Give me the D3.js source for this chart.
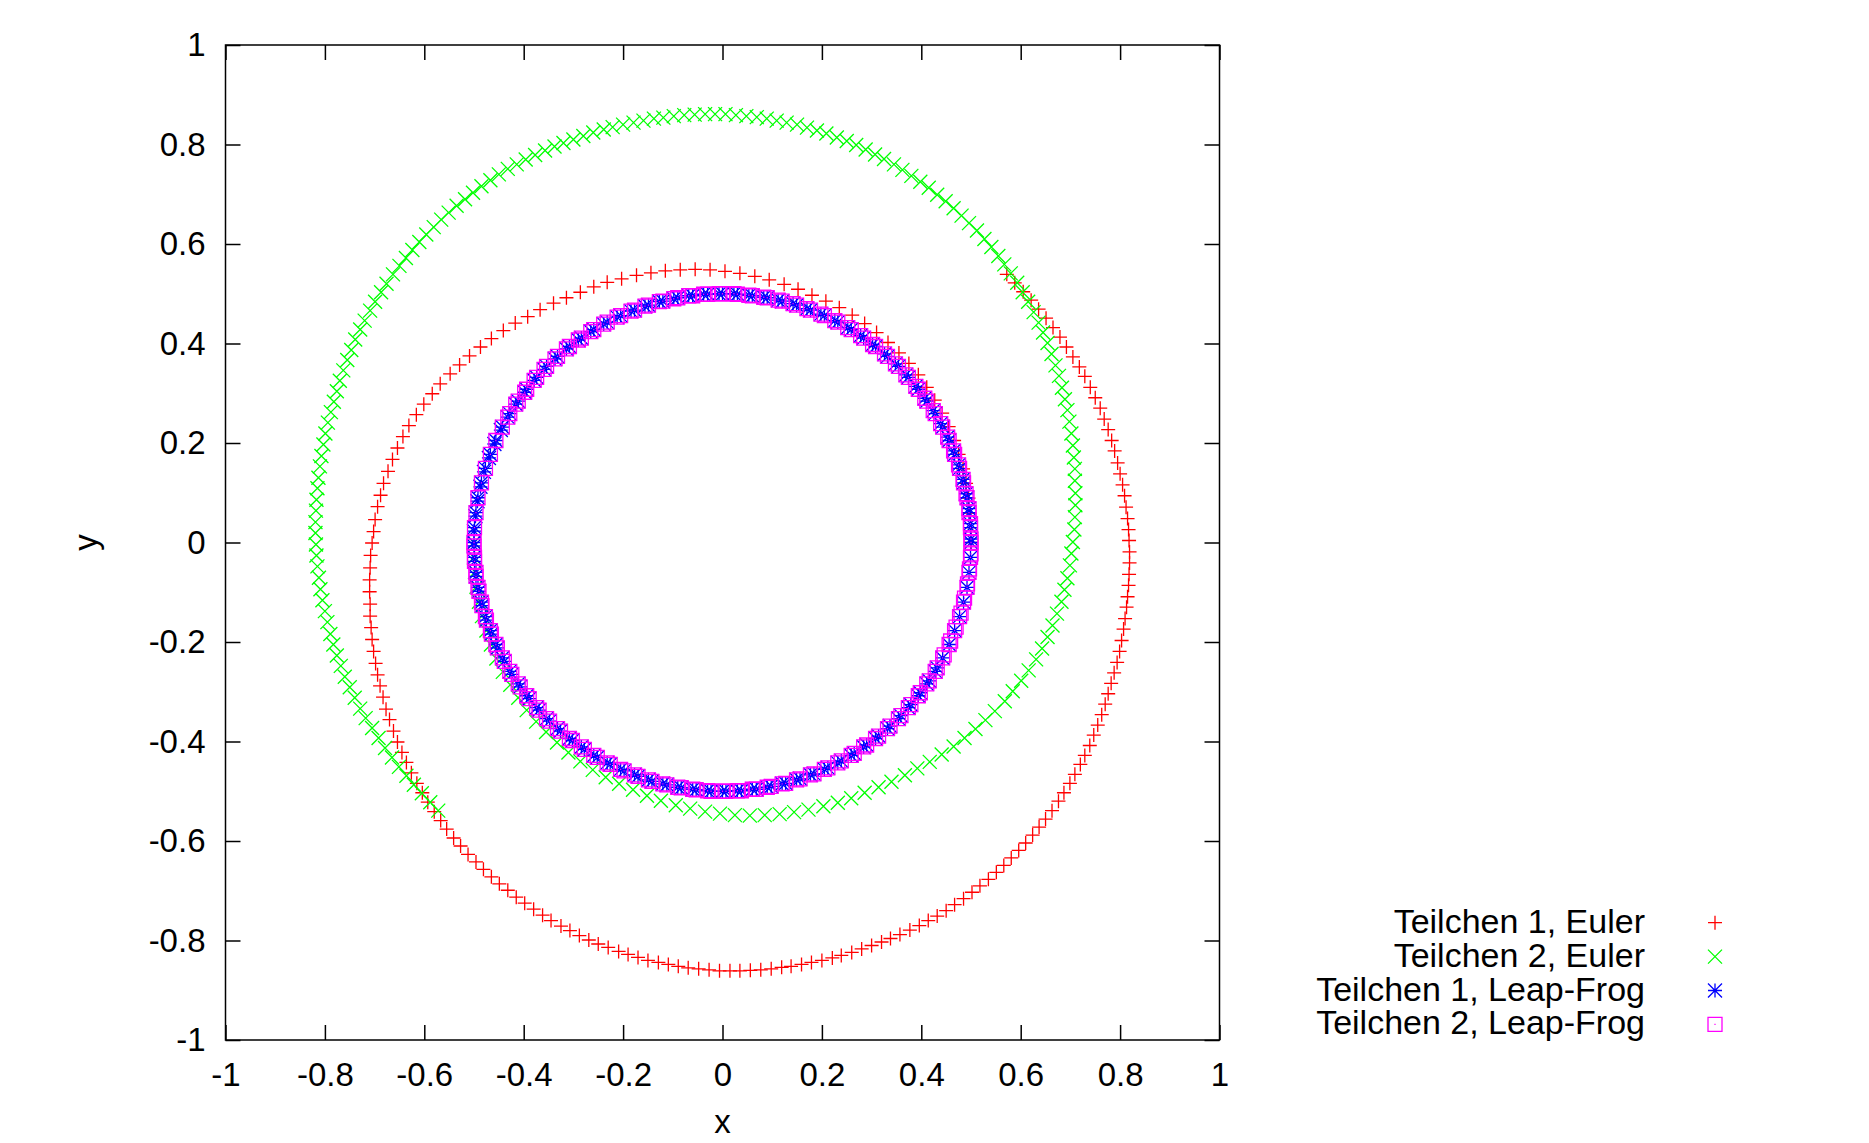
<!DOCTYPE html>
<html>
<head>
<meta charset="utf-8">
<script src="https://cdn.jsdelivr.net/npm/d3@7"></script>
<style>
  body { margin: 0; background: #fff; }
</style>
</head>
<body>
<svg id="chart"></svg>
<script>

// axis ticks
const xTicks = [-1, -0.8, -0.6, -0.4, -0.2, 0, 0.2, 0.4, 0.6, 0.8, 1];
const xTickLabels = ["-1", "-0.8", "-0.6", "-0.4", "-0.2", "0", "0.2", "0.4", "0.6", "0.8", "1"];
const yTicks = [-1, -0.8, -0.6, -0.4, -0.2, 0, 0.2, 0.4, 0.6, 0.8, 1];
const yTickLabels = ["-1", "-0.8", "-0.6", "-0.4", "-0.2", "0", "0.2", "0.4", "0.6", "0.8", "1"];

const seriesNames = ["Teilchen 1, Euler", "Teilchen 2, Euler", "Teilchen 1, Leap-Frog", "Teilchen 2, Leap-Frog"];

// positions [x, y]
const teilchen1Euler = [[.500,0],[.500,.030],[.498,.059],[.495,.089],[.490,.119],[.484,.148],[.475,.177],[.466,.205],[.455,.233],[.442,.260],[.427,.286],[.411,.312],[.394,.337],[.375,.360],[.355,.381],[.333,.402],[.310,.422],[.286,.440],[.261,.457],[.235,.472],[.208,.485],[.180,.497],[.152,.509],[.124,.519],[.094,.528],[.065,.535],[.035,.541],[.005,.545],[-.025,.548],[-.055,.549],[-.085,.548],[-.115,.546],[-.144,.542],[-.173,.537],[-.203,.530],[-.232,.523],[-.259,.514],[-.286,.503],[-.314,.492],[-.340,.481],[-.367,.468],[-.392,.454],[-.417,.441],[-.441,.426],[-.465,.410],[-.487,.393],[-.509,.375],[-.529,.357],[-.548,.339],[-.568,.319],[-.584,.299],[-.601,.278],[-.616,.257],[-.631,.235],[-.643,.213],[-.654,.190],[-.664,.167],[-.673,.143],[-.682,.119],[-.688,.095],[-.694,.072],[-.699,.046],[-.702,.022],[-.705,-.001],[-.708,-.026],[-.709,-.051],[-.710,-.075],[-.710,-.099],[-.709,-.124],[-.709,-.148],[-.707,-.171],[-.705,-.195],[-.702,-.219],[-.698,-.243],[-.694,-.266],[-.689,-.288],[-.683,-.311],[-.677,-.335],[-.670,-.356],[-.662,-.379],[-.654,-.401],[-.645,-.422],[-.636,-.442],[-.626,-.463],[-.615,-.484],[-.604,-.503],[-.593,-.522],[-.580,-.541],[-.567,-.559],[-.555,-.576],[-.541,-.594],[-.527,-.610],[-.512,-.627],[-.496,-.642],[-.481,-.657],[-.465,-.672],[-.449,-.686],[-.432,-.699],[-.415,-.713],[-.398,-.725],[-.380,-.737],[-.362,-.749],[-.345,-.760],[-.325,-.771],[-.307,-.780],[-.288,-.790],[-.269,-.799],[-.250,-.807],[-.230,-.814],[-.209,-.822],[-.190,-.828],[-.170,-.834],[-.150,-.840],[-.129,-.844],[-.109,-.848],[-.089,-.852],[-.069,-.855],[-.048,-.857],[-.027,-.859],[-.006,-.861],[.015,-.861],[.035,-.861],[.056,-.860],[.077,-.859],[.098,-.857],[.119,-.854],[.138,-.852],[.159,-.848],[.179,-.844],[.200,-.840],[.221,-.835],[.239,-.830],[.260,-.824],[.280,-.817],[.300,-.810],[.320,-.803],[.338,-.796],[.357,-.788],[.377,-.779],[.396,-.770],[.414,-.760],[.432,-.751],[.450,-.740],[.467,-.728],[.485,-.716],[.502,-.703],[.518,-.690],[.535,-.677],[.551,-.663],[.566,-.649],[.581,-.634],[.596,-.619],[.610,-.604],[.624,-.588],[.637,-.572],[.650,-.556],[.663,-.539],[.676,-.520],[.687,-.503],[.699,-.484],[.709,-.466],[.720,-.446],[.729,-.428],[.739,-.408],[.747,-.387],[.755,-.367],[.763,-.346],[.770,-.325],[.776,-.304],[.782,-.283],[.788,-.262],[.794,-.241],[.799,-.219],[.803,-.197],[.807,-.174],[.810,-.153],[.813,-.130],[.815,-.109],[.817,-.086],[.818,-.064],[.819,-.041],[.819,-.019],[.818,.004],[.817,.026],[.815,.048],[.812,.071],[.809,.094],[.805,.116],[.800,.138],[.795,.160],[.789,.184],[.783,.205],[.776,.227],[.768,.248],[.760,.270],[.750,.291],[.740,.312],[.729,.334],[.718,.353],[.705,.373],[.692,.393],[.679,.413],[.665,.432],[.651,.451],[.636,.469],[.621,.487],[.605,.504],[.588,.522],[.572,.539]];

const teilchen2Euler = [[-.500,0],[-.500,-.030],[-.498,-.059],[-.495,-.089],[-.490,-.119],[-.484,-.148],[-.475,-.177],[-.466,-.205],[-.455,-.233],[-.442,-.260],[-.427,-.286],[-.411,-.312],[-.394,-.337],[-.375,-.360],[-.355,-.381],[-.333,-.402],[-.310,-.422],[-.286,-.440],[-.261,-.457],[-.235,-.472],[-.208,-.485],[-.180,-.497],[-.152,-.509],[-.124,-.519],[-.094,-.528],[-.065,-.535],[-.035,-.541],[-.005,-.545],[.025,-.548],[.055,-.549],[.085,-.548],[.115,-.546],[.144,-.542],[.173,-.537],[.203,-.530],[.232,-.523],[.259,-.514],[.286,-.503],[.314,-.492],[.340,-.481],[.367,-.468],[.392,-.454],[.417,-.441],[.441,-.426],[.465,-.410],[.487,-.393],[.509,-.375],[.529,-.357],[.548,-.339],[.568,-.319],[.584,-.299],[.601,-.278],[.616,-.257],[.631,-.235],[.643,-.213],[.654,-.190],[.664,-.167],[.673,-.143],[.682,-.119],[.688,-.095],[.694,-.072],[.699,-.046],[.702,-.022],[.705,.001],[.708,.026],[.709,.051],[.710,.075],[.710,.099],[.709,.124],[.709,.148],[.707,.171],[.705,.195],[.702,.219],[.698,.243],[.694,.266],[.689,.288],[.683,.311],[.677,.335],[.670,.356],[.662,.379],[.654,.401],[.645,.422],[.636,.442],[.626,.463],[.615,.484],[.604,.503],[.593,.522],[.580,.541],[.567,.559],[.555,.576],[.541,.594],[.527,.610],[.512,.627],[.496,.642],[.481,.657],[.465,.672],[.449,.686],[.432,.699],[.415,.713],[.398,.725],[.380,.737],[.362,.749],[.345,.760],[.325,.771],[.307,.780],[.288,.790],[.269,.799],[.250,.807],[.230,.814],[.209,.822],[.190,.828],[.170,.834],[.150,.840],[.129,.844],[.109,.848],[.089,.852],[.069,.855],[.048,.857],[.027,.859],[.006,.861],[-.015,.861],[-.035,.861],[-.056,.860],[-.077,.859],[-.098,.857],[-.119,.854],[-.138,.852],[-.159,.848],[-.179,.844],[-.200,.840],[-.221,.835],[-.239,.830],[-.260,.824],[-.280,.817],[-.300,.810],[-.320,.803],[-.338,.796],[-.357,.788],[-.377,.779],[-.396,.770],[-.414,.760],[-.432,.751],[-.450,.740],[-.467,.728],[-.485,.716],[-.502,.703],[-.518,.690],[-.535,.677],[-.551,.663],[-.566,.649],[-.581,.634],[-.596,.619],[-.610,.604],[-.624,.588],[-.637,.572],[-.650,.556],[-.663,.539],[-.676,.520],[-.687,.503],[-.699,.484],[-.709,.466],[-.720,.446],[-.729,.428],[-.739,.408],[-.747,.387],[-.755,.367],[-.763,.346],[-.770,.325],[-.776,.304],[-.782,.283],[-.788,.262],[-.794,.241],[-.799,.219],[-.803,.197],[-.807,.174],[-.810,.153],[-.813,.130],[-.815,.109],[-.817,.086],[-.818,.064],[-.819,.041],[-.819,.019],[-.818,-.004],[-.817,-.026],[-.815,-.048],[-.812,-.071],[-.809,-.094],[-.805,-.116],[-.800,-.138],[-.795,-.160],[-.789,-.184],[-.783,-.205],[-.776,-.227],[-.768,-.248],[-.760,-.270],[-.750,-.291],[-.740,-.312],[-.729,-.334],[-.718,-.353],[-.705,-.373],[-.692,-.393],[-.679,-.413],[-.665,-.432],[-.651,-.451],[-.636,-.469],[-.621,-.487],[-.605,-.504],[-.588,-.522],[-.572,-.539]];

const teilchen1LeapFrog = [[.500,0],[.499,.030],[.496,.060],[.492,.090],[.485,.120],[.477,.149],[.467,.177],[.456,.205],[.443,.232],[.428,.259],[.411,.284],[.394,.308],[.374,.332],[.354,.354],[.332,.374],[.308,.394],[.284,.411],[.259,.428],[.232,.443],[.205,.456],[.177,.467],[.149,.477],[.120,.485],[.090,.492],[.060,.496],[.030,.499],
[0,.500],[-.030,.499],[-.060,.496],[-.090,.492],[-.120,.485],[-.149,.477],[-.177,.467],[-.205,.456],[-.232,.443],[-.259,.428],[-.284,.411],[-.308,.394],[-.332,.374],[-.354,.354],[-.374,.332],[-.394,.308],[-.411,.284],[-.428,.259],[-.443,.232],[-.456,.205],[-.467,.177],[-.477,.149],[-.485,.120],[-.492,.090],[-.496,.060],[-.499,.030],
[-.500,0],[-.499,-.030],[-.496,-.060],[-.492,-.090],[-.485,-.120],[-.477,-.149],[-.467,-.177],[-.456,-.205],[-.443,-.232],[-.428,-.259],[-.411,-.284],[-.394,-.308],[-.374,-.332],[-.354,-.354],[-.332,-.374],[-.308,-.394],[-.284,-.411],[-.259,-.428],[-.232,-.443],[-.205,-.456],[-.177,-.467],[-.149,-.477],[-.120,-.485],[-.090,-.492],[-.060,-.496],[-.030,-.499],
[0,-.500],[.030,-.499],[.060,-.496],[.090,-.492],[.120,-.485],[.149,-.477],[.177,-.467],[.205,-.456],[.232,-.443],[.259,-.428],[.284,-.411],[.308,-.394],[.332,-.374],[.354,-.354],[.374,-.332],[.394,-.308],[.411,-.284],[.428,-.259],[.443,-.232],[.456,-.205],[.467,-.177],[.477,-.149],[.485,-.120],[.492,-.090],[.496,-.060],[.499,-.030],
[.500,.007],[.499,.038],[.496,.068],[.490,.098],[.484,.127],[.475,.156],[.465,.184],[.453,.212],[.439,.239],[.424,.265],[.407,.290],[.389,.314],[.369,.337],[.348,.359],[.326,.379],[.302,.398],[.278,.416],[.252,.432],[.226,.446],[.198,.459],[.170,.470],[.142,.480],[.112,.487],[.083,.493],[.053,.497],[.023,.500],
[-.007,.500],[-.038,.499],[-.068,.496],[-.098,.490],[-.127,.484],[-.156,.475],[-.184,.465],[-.212,.453],[-.239,.439],[-.265,.424],[-.290,.407],[-.314,.389],[-.337,.369],[-.359,.348],[-.379,.326],[-.398,.302],[-.416,.278],[-.432,.252],[-.446,.226],[-.459,.198],[-.470,.170],[-.480,.142],[-.487,.112],[-.493,.083],[-.497,.053],[-.500,.023],
[-.500,-.007],[-.499,-.038],[-.496,-.068],[-.490,-.098],[-.484,-.127],[-.475,-.156],[-.465,-.184],[-.453,-.212],[-.439,-.239],[-.424,-.265],[-.407,-.290],[-.389,-.314],[-.369,-.337],[-.348,-.359],[-.326,-.379],[-.302,-.398],[-.278,-.416],[-.252,-.432],[-.226,-.446],[-.198,-.459],[-.170,-.470],[-.142,-.480],[-.112,-.487],[-.083,-.493],[-.053,-.497],[-.023,-.500],
[.007,-.500],[.038,-.499],[.068,-.496],[.098,-.490],[.127,-.484],[.156,-.475],[.184,-.465],[.212,-.453],[.239,-.439],[.265,-.424],[.290,-.407],[.314,-.389],[.337,-.369],[.359,-.348],[.379,-.326],[.398,-.302],[.416,-.278],[.432,-.252]];

const teilchen2LeapFrog = [[-.500,0],[-.499,-.030],[-.496,-.060],[-.492,-.090],[-.485,-.120],[-.477,-.149],[-.467,-.177],[-.456,-.205],[-.443,-.232],[-.428,-.259],[-.411,-.284],[-.394,-.308],[-.374,-.332],[-.354,-.354],[-.332,-.374],[-.308,-.394],[-.284,-.411],[-.259,-.428],[-.232,-.443],[-.205,-.456],[-.177,-.467],[-.149,-.477],[-.120,-.485],[-.090,-.492],[-.060,-.496],[-.030,-.499],
[0,-.500],[.030,-.499],[.060,-.496],[.090,-.492],[.120,-.485],[.149,-.477],[.177,-.467],[.205,-.456],[.232,-.443],[.259,-.428],[.284,-.411],[.308,-.394],[.332,-.374],[.354,-.354],[.374,-.332],[.394,-.308],[.411,-.284],[.428,-.259],[.443,-.232],[.456,-.205],[.467,-.177],[.477,-.149],[.485,-.120],[.492,-.090],[.496,-.060],[.499,-.030],
[.500,0],[.499,.030],[.496,.060],[.492,.090],[.485,.120],[.477,.149],[.467,.177],[.456,.205],[.443,.232],[.428,.259],[.411,.284],[.394,.308],[.374,.332],[.354,.354],[.332,.374],[.308,.394],[.284,.411],[.259,.428],[.232,.443],[.205,.456],[.177,.467],[.149,.477],[.120,.485],[.090,.492],[.060,.496],[.030,.499],
[0,.500],[-.030,.499],[-.060,.496],[-.090,.492],[-.120,.485],[-.149,.477],[-.177,.467],[-.205,.456],[-.232,.443],[-.259,.428],[-.284,.411],[-.308,.394],[-.332,.374],[-.354,.354],[-.374,.332],[-.394,.308],[-.411,.284],[-.428,.259],[-.443,.232],[-.456,.205],[-.467,.177],[-.477,.149],[-.485,.120],[-.492,.090],[-.496,.060],[-.499,.030],
[-.500,-.007],[-.499,-.038],[-.496,-.068],[-.490,-.098],[-.484,-.127],[-.475,-.156],[-.465,-.184],[-.453,-.212],[-.439,-.239],[-.424,-.265],[-.407,-.290],[-.389,-.314],[-.369,-.337],[-.348,-.359],[-.326,-.379],[-.302,-.398],[-.278,-.416],[-.252,-.432],[-.226,-.446],[-.198,-.459],[-.170,-.470],[-.142,-.480],[-.112,-.487],[-.083,-.493],[-.053,-.497],[-.023,-.500],
[.007,-.500],[.038,-.499],[.068,-.496],[.098,-.490],[.127,-.484],[.156,-.475],[.184,-.465],[.212,-.453],[.239,-.439],[.265,-.424],[.290,-.407],[.314,-.389],[.337,-.369],[.359,-.348],[.379,-.326],[.398,-.302],[.416,-.278],[.432,-.252],[.446,-.226],[.459,-.198],[.470,-.170],[.480,-.142],[.487,-.112],[.493,-.083],[.497,-.053],[.500,-.023],
[.500,.007],[.499,.038],[.496,.068],[.490,.098],[.484,.127],[.475,.156],[.465,.184],[.453,.212],[.439,.239],[.424,.265],[.407,.290],[.389,.314],[.369,.337],[.348,.359],[.326,.379],[.302,.398],[.278,.416],[.252,.432],[.226,.446],[.198,.459],[.170,.470],[.142,.480],[.112,.487],[.083,.493],[.053,.497],[.023,.500],
[-.007,.500],[-.038,.499],[-.068,.496],[-.098,.490],[-.127,.484],[-.156,.475],[-.184,.465],[-.212,.453],[-.239,.439],[-.265,.424],[-.290,.407],[-.314,.389],[-.337,.369],[-.359,.348],[-.379,.326],[-.398,.302],[-.416,.278],[-.432,.252]];


// set the dimensions of the page and the plot box
const width = 1869, height = 1143;
const box = {left: 225.5, right: 1219.5, top: 45, bottom: 1040};
const fontFamily = '"Liberation Sans", Arial, Helvetica, sans-serif';
const ms = 7; // half size of the point symbols

const svg = d3.select('#chart')
    .attr("width", width)
    .attr("height", height);

svg.append("rect")
    .attr("width", width)
    .attr("height", height)
    .attr("fill", "#fff");

var x = d3.scaleLinear().domain([-1, 1]).range([box.left, box.right]);
var y = d3.scaleLinear().domain([-1, 1]).range([box.bottom, box.top]);

// gnuplot point types
function plus(cx, cy) { return "M" + (cx - ms) + "," + cy + "H" + (cx + ms) + "M" + cx + "," + (cy - ms) + "V" + (cy + ms); }
function cross(cx, cy) { return "M" + (cx - ms) + "," + (cy - ms) + "L" + (cx + ms) + "," + (cy + ms) + "M" + (cx - ms) + "," + (cy + ms) + "L" + (cx + ms) + "," + (cy - ms); }
function star(cx, cy) { return plus(cx, cy) + cross(cx, cy); }
function box4(cx, cy) { return "M" + (cx - ms) + "," + (cy - ms) + "h" + (2 * ms) + "v" + (2 * ms) + "h" + (-2 * ms) + "Z" + "M" + (cx - 0.6) + "," + cy + "h1.2"; }

const series = [
    {name: seriesNames[0], data: teilchen1Euler, color: "#ff0000", sym: plus},
    {name: seriesNames[1], data: teilchen2Euler, color: "#00ff00", sym: cross},
    {name: seriesNames[2], data: teilchen1LeapFrog, color: "#0000ff", sym: star},
    {name: seriesNames[3], data: teilchen2LeapFrog, color: "#ff00ff", sym: box4}
];

// Add the points
series.forEach(function(s) {
    svg.append("g")
        .selectAll("path")
        .data(s.data)
        .enter()
        .append("path")
        .attr("fill", "none")
        .attr("stroke", s.color)
        .attr("stroke-width", 1.3)
        .attr("d", function(d) { return s.sym(x(d[0]), y(d[1])); });
});

// Add X axis (bottom with labels, top mirrored)
function styleAxis(g) {
    g.attr("font-family", fontFamily).attr("font-size", 33);
    g.select(".domain").remove();
    g.selectAll(".tick line").attr("stroke", "#000").attr("stroke-width", 1.5);
    g.selectAll(".tick text").attr("fill", "#000");
}

svg.append("g")
    .attr("transform", "translate(0," + box.bottom + ")")
    .call(d3.axisBottom(x).tickValues(xTicks).tickSize(-15).tickSizeOuter(0).tickPadding(23)
        .tickFormat(function(d, i) { return xTickLabels[i]; }))
    .call(styleAxis);

svg.append("g")
    .attr("transform", "translate(0," + box.top + ")")
    .call(d3.axisTop(x).tickValues(xTicks).tickSize(-15).tickSizeOuter(0).tickFormat(""))
    .call(styleAxis);

// Add Y axis (left with labels, right mirrored)
svg.append("g")
    .attr("transform", "translate(" + box.left + ",0)")
    .call(d3.axisLeft(y).tickValues(yTicks).tickSize(-15).tickSizeOuter(0).tickPadding(20)
        .tickFormat(function(d, i) { return yTickLabels[i]; }))
    .call(styleAxis);

svg.append("g")
    .attr("transform", "translate(" + box.right + ",0)")
    .call(d3.axisRight(y).tickValues(yTicks).tickSize(-15).tickSizeOuter(0).tickFormat(""))
    .call(styleAxis);

// border
svg.append("rect")
    .attr("x", box.left)
    .attr("y", box.top)
    .attr("width", box.right - box.left)
    .attr("height", box.bottom - box.top)
    .attr("fill", "none")
    .attr("stroke", "#000")
    .attr("stroke-width", 1.5);

// Axes labels
svg.append("text")
    .attr("font-family", fontFamily)
    .attr("font-size", 33)
    .attr("text-anchor", "middle")
    .attr("x", (box.left + box.right) / 2)
    .attr("y", 1133)
    .text("x");

svg.append("text")
    .attr("font-family", fontFamily)
    .attr("font-size", 33)
    .attr("text-anchor", "middle")
    .attr("transform", "translate(97," + ((box.top + box.bottom) / 2) + ") rotate(-90)")
    .text("y");

// legend
const legend = svg.append("g")
    .attr("font-family", fontFamily)
    .attr("font-size", 34);

series.forEach(function(s, i) {
    var cy = 922.7 + i * 33.9;
    legend.append("text")
        .attr("x", 1645)
        .attr("y", cy + 10)
        .attr("text-anchor", "end")
        .text(s.name);
    legend.append("path")
        .attr("fill", "none")
        .attr("stroke", s.color)
        .attr("stroke-width", 1.3)
        .attr("d", s.sym(1715, cy));
});

</script>
</body>
</html>
